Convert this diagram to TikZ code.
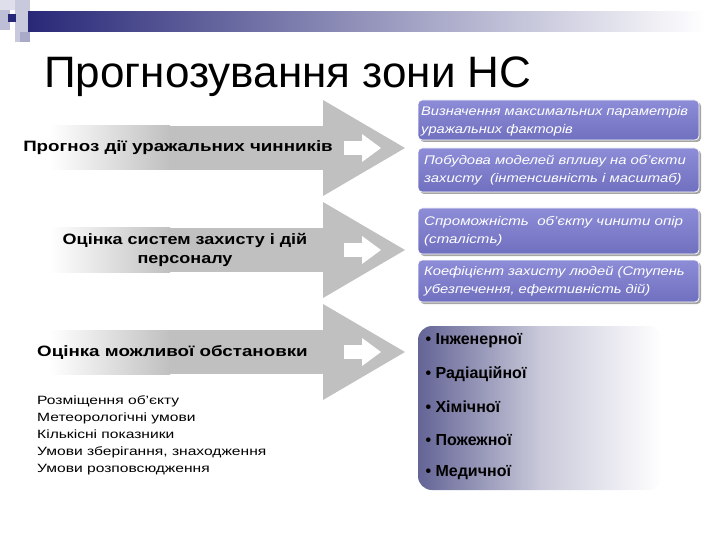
\documentclass[tikz,border=0pt]{standalone}
\usepackage{fontspec}
\setmainfont{Liberation Sans}
\usetikzlibrary{shadows}
\definecolor{agray}{RGB}{192,192,192}
\definecolor{navy}{RGB}{40,40,120}
\definecolor{bluebox}{RGB}{112,112,192}
\definecolor{bluebox2}{RGB}{140,140,215}
\definecolor{lowbox}{RGB}{100,100,150}
\newcommand{\wide}[2]{\scalebox{#1}[1]{#2}}
\tikzset{
  lbl/.style={font=\bfseries\fontsize{15}{19}\selectfont, align=center},
  bbox/.style={rounded corners=4pt, top color=bluebox2, bottom color=bluebox, draw=white, line width=0.8pt,
     drop shadow={shadow xshift=2pt, shadow yshift=-2pt, fill=black!70}},
  btxt/.style={font=\itshape\fontsize{12.5}{18}\selectfont, text=white, anchor=north west, inner sep=0},
  bul/.style={font=\bfseries\fontsize{16}{18}\selectfont, anchor=west},
  lst/.style={font=\fontsize{12}{17}\selectfont, anchor=north west}
}
\newcommand{\bigarrow}[1]{% #1 center y
  \shade[left color=white, right color=agray] (50,#1-22) rectangle (170,#1+22);
  \fill[agray] (169,#1-22) rectangle (323,#1+22);
  \fill[agray] (323,#1-48) -- (405,#1) -- (323,#1+48) -- cycle;
  \fill[white] (344,#1-7) rectangle (364,#1+7);
  \fill[white] (362,#1-14) -- (381,#1) -- (362,#1+14) -- cycle;
}
\begin{document}
\begin{tikzpicture}[x=1pt,y=-1pt]
\useasboundingbox (0,0) rectangle (720,540);
% header decoration
\fill[navy!25] (15,0) rectangle (30,42);
\fill[navy!15] (0,0) rectangle (15,10);
\shade[left color=navy, right color=white] (28,12) rectangle (705,32);
\fill[navy!30] (0,10) rectangle (10,30);
\fill[navy] (8,14) rectangle (16,22);
\fill[navy!40] (20,32) rectangle (30,42);
\node[anchor=base west, font=\fontsize{44}{48}\selectfont, inner sep=0] (title) at (44,88) {Прогнозування зони НС};
% arrows
\bigarrow{148}
\bigarrow{250}
\bigarrow{352}
\node[lbl] (l1) at (178,148) {\wide{1.25}{Прогноз дії уражальних чинників}};
\node[lbl] (l2) at (185,250) {\wide{1.2}{\begin{tabular}{c}Оцінка систем захисту і дій\\персоналу\end{tabular}}};
\node[lbl, anchor=west, inner sep=0] (l3) at (37,352) {\wide{1.25}{Оцінка можливої обстановки}};
\node[lst, inner sep=0] (list) at (37,392) {\wide{1.3}{\begin{tabular}{@{}l@{}}Розміщення об'єкту\\Метеорологічні умови\\Кількісні показники\\Умови зберігання, знаходження\\Умови розповсюдження\end{tabular}}};
% blue boxes
\draw[bbox] (418,100) rectangle (699,140);
\draw[bbox] (418,148) rectangle (699,192);
\draw[bbox] (418,208) rectangle (699,254);
\draw[bbox] (418,260) rectangle (699,302);
\node[btxt] (b1) at (421,103) {\wide{1.17}{\begin{tabular}{@{}l@{}}Визначення максимальних параметрів\\уражальних факторів\end{tabular}}};
\node[btxt] (b2) at (424,152) {\wide{1.19}{\begin{tabular}{@{}l@{}}Побудова моделей впливу на об'єкти\\захисту \ (інтенсивність і масштаб)\end{tabular}}};
\node[btxt] (b3) at (424,213) {\wide{1.21}{\begin{tabular}{@{}l@{}}Спроможність \ об'єкту чинити опір\\(сталість)\end{tabular}}};
\node[btxt] (b4) at (424,263) {\wide{1.18}{\begin{tabular}{@{}l@{}}Коефіцієнт захисту людей (Ступень\\убезпечення, ефективність дій)\end{tabular}}};
% lower box
\shade[rounded corners=14pt, left color=lowbox, right color=white, middle color=lowbox!35] (418,326) rectangle (662,490);
\node[bul] (c1) at (422,341) {• Інженерної};
\node[bul] (c2) at (422,374) {• Радіаційної};
\node[bul] (c3) at (422,407) {• Хімічної};
\node[bul] (c4) at (422,440) {• Пожежної};
\node[bul] (c5) at (422,473) {• Медичної};
\end{tikzpicture}
\end{document}
